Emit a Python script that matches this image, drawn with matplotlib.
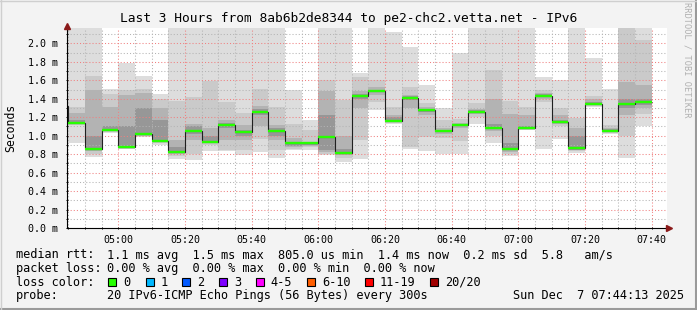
import numpy as np
import matplotlib
matplotlib.use('Agg')
import matplotlib.pyplot as plt
from matplotlib.patches import Rectangle
from matplotlib.lines import Line2D

# one bar per 5 minute step, first one starts 04:40 (partly hidden left of the axis)
first_start = '04:40'
step_min = 5

median = [1.325, 1.134, 0.856, 1.062, 0.874, 1.018, 0.943, 0.827, 1.051, 0.936, 1.116, 1.036,
          1.26, 1.051, 0.917, 0.917, 0.99, 0.809, 1.433, 1.484, 1.159, 1.412, 1.278, 1.051,
          1.116, 1.26, 1.087, 0.856, 1.087, 1.433, 1.152, 0.87, 1.343, 1.051, 1.343, 1.361]

# smoke bands (ms), outer band = min/max ping, inner bands = tighter ping ranges
lo1 = [0.95, 0.92, 0.77, 1.03, 0.86, 0.99, 0.90, 0.745, 0.74, 0.83, 0.83, 0.79,
       0.82, 0.755, 0.85, 0.84, 0.79, 0.72, 0.745, 1.28, 1.13, 0.86, 0.83, 0.80,
       0.80, 1.125, 0.92, 0.78, 1.06, 0.86, 0.96, 0.815, 1.31, 1.02, 0.755, 1.10]
hi1 = [2.2, 2.2, 2.2, 1.51, 1.79, 1.65, 1.45, 2.2, 2.2, 2.2, 2.2, 2.2,
       2.2, 2.2, 1.50, 1.17, 2.2, 2.2, 1.68, 2.2, 2.12, 1.96, 1.55, 1.30,
       1.90, 2.2, 2.2, 2.2, 2.2, 1.64, 1.60, 2.2, 1.84, 1.51, 2.2, 2.2]
lo2 = [1.10, 1.12, 0.80, 1.04, 0.86, 1.00, 0.92, 0.78, 0.80, 0.90, 0.85, 0.85,
       0.96, 0.85, 0.86, 0.88, 0.80, 0.76, 0.95, 1.37, 1.14, 0.88, 0.99, 0.97,
       0.94, 1.20, 1.00, 0.80, 1.06, 1.37, 1.11, 0.83, 1.32, 1.03, 1.00, 1.24]
hi2 = [1.50, 1.31, 1.65, 1.45, 1.49, 1.51, 1.40, 1.38, 1.42, 1.59, 1.36, 1.25,
       1.51, 1.31, 1.13, 1.06, 1.60, 1.39, 1.64, 1.60, 1.31, 1.53, 1.35, 1.17,
       1.18, 1.35, 1.71, 1.38, 1.31, 1.50, 1.30, 1.19, 1.43, 1.12, 2.2, 2.04]
lo3 = [1.25, 1.13, 0.83, 1.05, 0.87, 1.00, 0.93, 0.80, 0.95, 0.92, 0.95, 0.95,
       1.10, 0.95, 0.88, 0.89, 0.82, 0.79, 1.30, 1.44, 1.15, 1.30, 1.22, 1.02,
       1.08, 1.23, 1.05, 0.82, 1.07, 1.40, 1.13, 0.84, 1.33, 1.04, 1.22, 1.30]
hi3 = [1.40, 1.25, 1.49, 1.31, 1.44, 1.46, 1.30, 0.95, 1.13, 1.08, 1.17, 1.12,
       1.32, 1.12, 0.97, 0.93, 1.48, 1.00, 1.48, 1.53, 1.22, 1.44, 1.31, 1.08,
       1.14, 1.29, 1.40, 1.24, 1.22, 1.46, 1.22, 1.08, 1.40, 1.08, 1.58, 1.55]
lo4 = [1.30, 1.13, 0.84, 1.05, 0.87, 1.01, 0.93, 0.81, 1.02, 0.93, 1.08, 1.00,
       1.22, 1.00, 0.89, 0.90, 0.84, 0.80, 1.40, 1.47, 1.155, 1.39, 1.26, 1.04,
       1.10, 1.25, 1.07, 0.84, 1.075, 1.42, 1.14, 0.85, 1.335, 1.045, 1.30, 1.33]
hi4 = [1.35, 1.17, 1.00, 1.10, 1.10, 1.30, 1.17, 0.88, 1.10, 1.00, 1.14, 1.06,
       1.29, 1.08, 0.93, 0.92, 1.22, 0.86, 1.45, 1.50, 1.20, 1.43, 1.29, 1.065,
       1.13, 1.28, 1.13, 0.92, 1.10, 1.45, 1.17, 1.00, 1.37, 1.07, 1.40, 1.40]

x_labels = ['05:00', '05:20', '05:40', '06:00', '06:20', '06:40', '07:00', '07:20', '07:40']
y_labels = ['0.0 m', '0.2 m', '0.4 m', '0.6 m', '0.8 m', '1.0 m', '1.2 m', '1.4 m',
            '1.6 m', '1.8 m', '2.0 m']

loss_names = ['0', '1', '2', '3', '4-5', '6-10', '11-19', '20/20']
loss_colors = ['#26ff00', '#00b8ff', '#0059ff', '#7e00ff', '#ff00ff', '#ff5e00', '#ff0000', '#a10000']

W, H = 697, 310
MONO = 'DejaVu Sans Mono'
plt.rcParams['font.family'] = MONO


def hm(s):
    h, m = s.split(':')
    return (int(h) - 4) * 60 + int(m)  # minutes after 04:00


def fx(px):
    return px / W


def fy(py):
    return 1 - py / H


fig = plt.figure(figsize=(W / 100, H / 100), dpi=100, facecolor='#f3f3f3')
ax = fig.add_axes([fx(66.7), fy(228), 600 / W, 200 / H])
ax.set_facecolor('white')

n = len(median)
starts = hm(first_start) + step_min * np.arange(n)
edges = np.append(starts, starts[-1] + step_min)

# smoke, light outer band first then darker inner bands
bands = [(lo1, hi1, '#dddddd'), (lo2, hi2, '#cacaca'), (lo3, hi3, '#b3b3b3'), (lo4, hi4, '#979797')]
for lo, hi, col in bands:
    lo = np.array(lo)
    hi = np.array(hi)
    ax.bar(starts, hi - lo, width=step_min, bottom=lo, align='edge', color=col,
           linewidth=0, zorder=1)

# median line: dark step line plus green (0 % loss) segments
ax.stairs(median, edges, baseline=None, color='#202020', lw=0.8, zorder=4)
ax.hlines(median, edges[:-1], edges[1:], color=loss_colors[0], lw=1.7, zorder=5)

t0 = hm('07:44') + 31 / 60 - 180
ax.set_xlim(t0, t0 + 180)
ax.set_ylim(0, 200 / 92.3)

xt = [hm(s) for s in x_labels]
ax.set_xticks(xt)
ax.set_xticklabels(x_labels)
ax.set_xticks([m for m in range(45, 225, 5) if m not in xt], minor=True)
yt = np.arange(len(y_labels)) * 0.2
ax.set_yticks(yt)
ax.set_yticklabels(y_labels)
ax.set_yticks(np.arange(1, 22, 2) * 0.1, minor=True)

ax.set_axisbelow(False)
ax.grid(which='minor', color='#b4b4b4', ls=(0, (1, 2)), lw=0.75)
ax.grid(which='major', color='#f08080', ls=(0, (1, 2)), lw=0.75)
ax.tick_params(which='both', length=2, width=0.7, direction='inout', labelsize=7.2,
               colors='black', pad=4)
ax.tick_params(axis='y', pad=5)

for s in ['top', 'right']:
    ax.spines[s].set_visible(False)
for s in ['left', 'bottom']:
    ax.spines[s].set_linewidth(0.8)
    ax.spines[s].set_zorder(6)
ax.spines['bottom'].set_bounds(t0, t0 + 180.6)

# axis arrows
ax.plot([1.003], [0], marker='>', ms=4, color='#8b1a1a', transform=ax.transAxes, clip_on=False, zorder=7)
ax.plot([0], [1.01], marker='^', ms=4, color='#8b1a1a', transform=ax.transAxes, clip_on=False, zorder=7)

fig.text(fx(10.5), fy(128), 'Seconds', rotation=90, ha='center', va='center', fontsize=8.3)

fig.text(0.5, fy(18.5), 'Last 3 Hours from 8ab6b2de8344 to pe2-chc2.vetta.net - IPv6',
         ha='center', va='center', fontsize=9.3)
fig.text(fx(686.5), fy(60), 'RRDTOOL / TOBI OETIKER', rotation=-90, ha='center', va='center',
         fontsize=6.2, color='#b0b0b0')

# legend area
fs = 8.6
col0, col1 = fx(16), fx(107.3)
fig.text(col0, fy(255), 'median rtt:', fontsize=fs, va='center')
fig.text(col1, fy(255), '1.1 ms avg  1.5 ms max  805.0 us min  1.4 ms now  0.2 ms sd  5.8   am/s',
         fontsize=fs, va='center')
fig.text(col0, fy(268.3), 'packet loss:', fontsize=fs, va='center')
fig.text(col1, fy(268.3), '0.00 % avg  0.00 % max  0.00 % min  0.00 % now', fontsize=fs, va='center')
fig.text(col0, fy(282), 'loss color:', fontsize=fs, va='center')
box_x = [108.3, 145.7, 182.3, 219, 255.7, 307.3, 365, 430]
for bx, name, c in zip(box_x, loss_names, loss_colors):
    fig.add_artist(Rectangle((fx(bx), fy(286)), 8 / W, 8 / H, transform=fig.transFigure,
                             facecolor=c, edgecolor='black', lw=0.8))
    fig.text(fx(bx + 15), fy(282), name, fontsize=fs, va='center')
fig.text(col0, fy(295.5), 'probe:', fontsize=fs, va='center')
fig.text(col1, fy(295.5), '20 IPv6-ICMP Echo Pings (56 Bytes) every 300s', fontsize=fs, va='center')
fig.text(fx(513.3), fy(295.5), 'Sun Dec  7 07:44:13 2025', fontsize=fs, va='center')

# 3d-ish frame of the canvas
fig.add_artist(Line2D([0, 1], [fy(309), fy(309)], transform=fig.transFigure, color='#9a9a9a', lw=1.5))
fig.add_artist(Line2D([fx(696), fx(696)], [0, 1], transform=fig.transFigure, color='#9a9a9a', lw=1.5))
fig.add_artist(Line2D([0, 1], [fy(0.5), fy(0.5)], transform=fig.transFigure, color='#cfcfcf', lw=1))
fig.add_artist(Line2D([fx(0.5), fx(0.5)], [0, 1], transform=fig.transFigure, color='#cfcfcf', lw=1))

plt.savefig('out.png', dpi=100, facecolor=fig.get_facecolor())
plt.close('all')
